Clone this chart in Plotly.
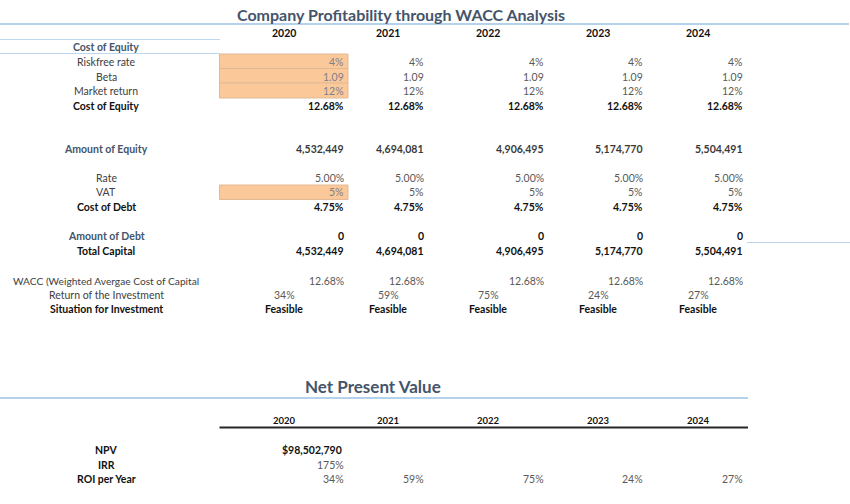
import plotly.graph_objects as go

# ---------------- data ----------------
years = ["2020", "2021", "2022", "2023", "2024"]

riskfree_rate = ["4%", "4%", "4%", "4%", "4%"]
beta = ["1.09", "1.09", "1.09", "1.09", "1.09"]
market_return = ["12%", "12%", "12%", "12%", "12%"]
cost_of_equity = ["12.68%", "12.68%", "12.68%", "12.68%", "12.68%"]

amount_of_equity = ["4,532,449", "4,694,081", "4,906,495", "5,174,770", "5,504,491"]

rate = ["5.00%", "5.00%", "5.00%", "5.00%", "5.00%"]
vat = ["5%", "5%", "5%", "5%", "5%"]
cost_of_debt = ["4.75%", "4.75%", "4.75%", "4.75%", "4.75%"]

amount_of_debt = ["0", "0", "0", "0", "0"]
total_capital = ["4,532,449", "4,694,081", "4,906,495", "5,174,770", "5,504,491"]

wacc = ["12.68%", "12.68%", "12.68%", "12.68%", "12.68%"]
return_of_investment = ["34%", "59%", "75%", "24%", "27%"]
situation = ["Feasible", "Feasible", "Feasible", "Feasible", "Feasible"]

npv = ["$98,502,790"]
irr = ["175%"]
roi_per_year = ["34%", "59%", "75%", "24%", "27%"]

# ---------------- layout constants ----------------
FONT = "Lato"
FS = 10.5
TITLE_C = "#44546A"
VAL_C = "#595959"
LAB_C = "#404040"
BOLD_C = "#111111"
ORANGE = "#FBC999"
LINE_BLUE = "#9DC3E6"

col_right = [347, 427, 547, 646, 746]
col_center = [284, 388, 488, 598, 698]
label_x = 106

annotations = []
shapes = []


def txt(x, y, s, anchor="center", color=VAL_C, bold=False, size=FS):
    annotations.append(dict(
        x=x, y=y, xref="x", yref="y", text=f"<b>{s}</b>" if bold else s,
        showarrow=False, xanchor=anchor, yanchor="middle",
        font=dict(family=FONT, size=size, color=color),
    ))


def hline(x0, x1, y, color, width=1):
    shapes.append(dict(type="line", xref="x", yref="y", x0=x0, x1=x1, y0=y, y1=y,
                       line=dict(color=color, width=width)))


def rect(x0, x1, y0, y1, fill, line_c):
    shapes.append(dict(type="rect", xref="x", yref="y", x0=x0, x1=x1, y0=y0, y1=y1,
                       fillcolor=fill, line=dict(color=line_c, width=1), layer="below"))


def value_row(y, vals, color=VAL_C, bold=False, anchor="right", shade_first=False):
    for i, v in enumerate(vals):
        c = color
        if shade_first and i == 0:
            c = "#7F7F8C"
        if anchor == "right":
            txt(col_right[i] - 1, y, v, "right", c, bold)
        else:
            txt(col_center[i], y, v, "center", c, bold)


# ---------------- title section 1 ----------------
txt(401, 14, "Company Profitability through WACC Analysis", "center", TITLE_C, True, 16)
hline(0, 849, 24, LINE_BLUE, 1.6)

for i, yr in enumerate(years):
    txt(col_center[i], 32.5, yr, "center", BOLD_C, True, 10.5)

# Cost of equity block
hline(0, 220, 39.5, "#BDD7EE", 1)
hline(0, 220, 53.5, "#BDD7EE", 1)
txt(label_x, 47, "Cost of Equity", "center", TITLE_C, True)

rect(219.5, 348, 54, 68.5, ORANGE, "#E2B995")
rect(219.5, 348, 68.5, 83, ORANGE, "#E2B995")
rect(219.5, 348, 83, 98, ORANGE, "#E2B995")

txt(label_x, 62, "Riskfree rate", "center", LAB_C)
value_row(62, riskfree_rate, shade_first=True)
txt(label_x, 76.5, "Beta", "center", LAB_C)
value_row(76.5, beta, shade_first=True)
txt(label_x, 91, "Market return", "center", LAB_C)
value_row(91, market_return, shade_first=True)
txt(label_x, 105.5, "Cost of Equity", "center", BOLD_C, True)
value_row(105.5, cost_of_equity, BOLD_C, True)

# Amount of equity
txt(label_x, 149, "Amount of Equity", "center", TITLE_C, True)
value_row(149, amount_of_equity, "#3a3a3a", True)

# Cost of debt block
rect(219.5, 348, 185, 199.5, ORANGE, "#E2B995")
txt(label_x, 178, "Rate", "center", LAB_C)
value_row(178, rate)
txt(label_x, 192, "VAT", "center", LAB_C)
value_row(192, vat, shade_first=True)
txt(label_x, 207, "Cost of Debt", "center", BOLD_C, True)
value_row(207, cost_of_debt, BOLD_C, True)

# Debt / capital
txt(label_x, 236, "Amount of Debt", "center", TITLE_C, True)
value_row(236, amount_of_debt, BOLD_C, True)
hline(747, 850, 242.5, "#BDD7EE", 1)
txt(label_x, 251, "Total Capital", "center", BOLD_C, True)
value_row(251, total_capital, BOLD_C, True)

# WACC
txt(label_x, 280.5, "WACC (Weighted Avergae Cost of Capital", "center", LAB_C, size=10.2)
value_row(280.5, wacc)
txt(label_x, 294.5, "Return of the Investment", "center", LAB_C)
value_row(294.5, return_of_investment, anchor="center")
txt(label_x, 308.5, "Situation for Investment", "center", BOLD_C, True)
value_row(308.5, situation, BOLD_C, True, anchor="center")

# ---------------- NPV section ----------------
txt(373, 386.5, "Net Present Value", "center", TITLE_C, True, 17)
hline(0, 748, 398, LINE_BLUE, 1.6)

for i, yr in enumerate(years):
    txt(col_center[i], 420.5, yr, "center", BOLD_C, True, 9.5)
hline(219.5, 748, 427.5, "#262626", 2)

txt(label_x, 450, "NPV", "center", BOLD_C, True)
txt(col_right[0] - 3, 450, npv[0], "right", BOLD_C, True)
txt(label_x, 465, "IRR", "center", BOLD_C, True)
txt(col_right[0] - 1, 465, irr[0], "right", VAL_C)
txt(label_x, 479, "ROI per Year", "center", BOLD_C, True)
value_row(479, roi_per_year)

fig = go.Figure()
fig.update_layout(
    width=850, height=504,
    margin=dict(l=0, r=0, t=0, b=0),
    paper_bgcolor="white", plot_bgcolor="white",
    xaxis=dict(range=[0, 850], visible=False, fixedrange=True),
    yaxis=dict(range=[504, 0], visible=False, fixedrange=True),
    annotations=annotations,
    shapes=shapes,
    showlegend=False,
)

fig.write_html(
    "out.html",
    config={"displayModeBar": False},
    post_script="document.body.style.margin='0';document.body.style.overflow='hidden';",
)
